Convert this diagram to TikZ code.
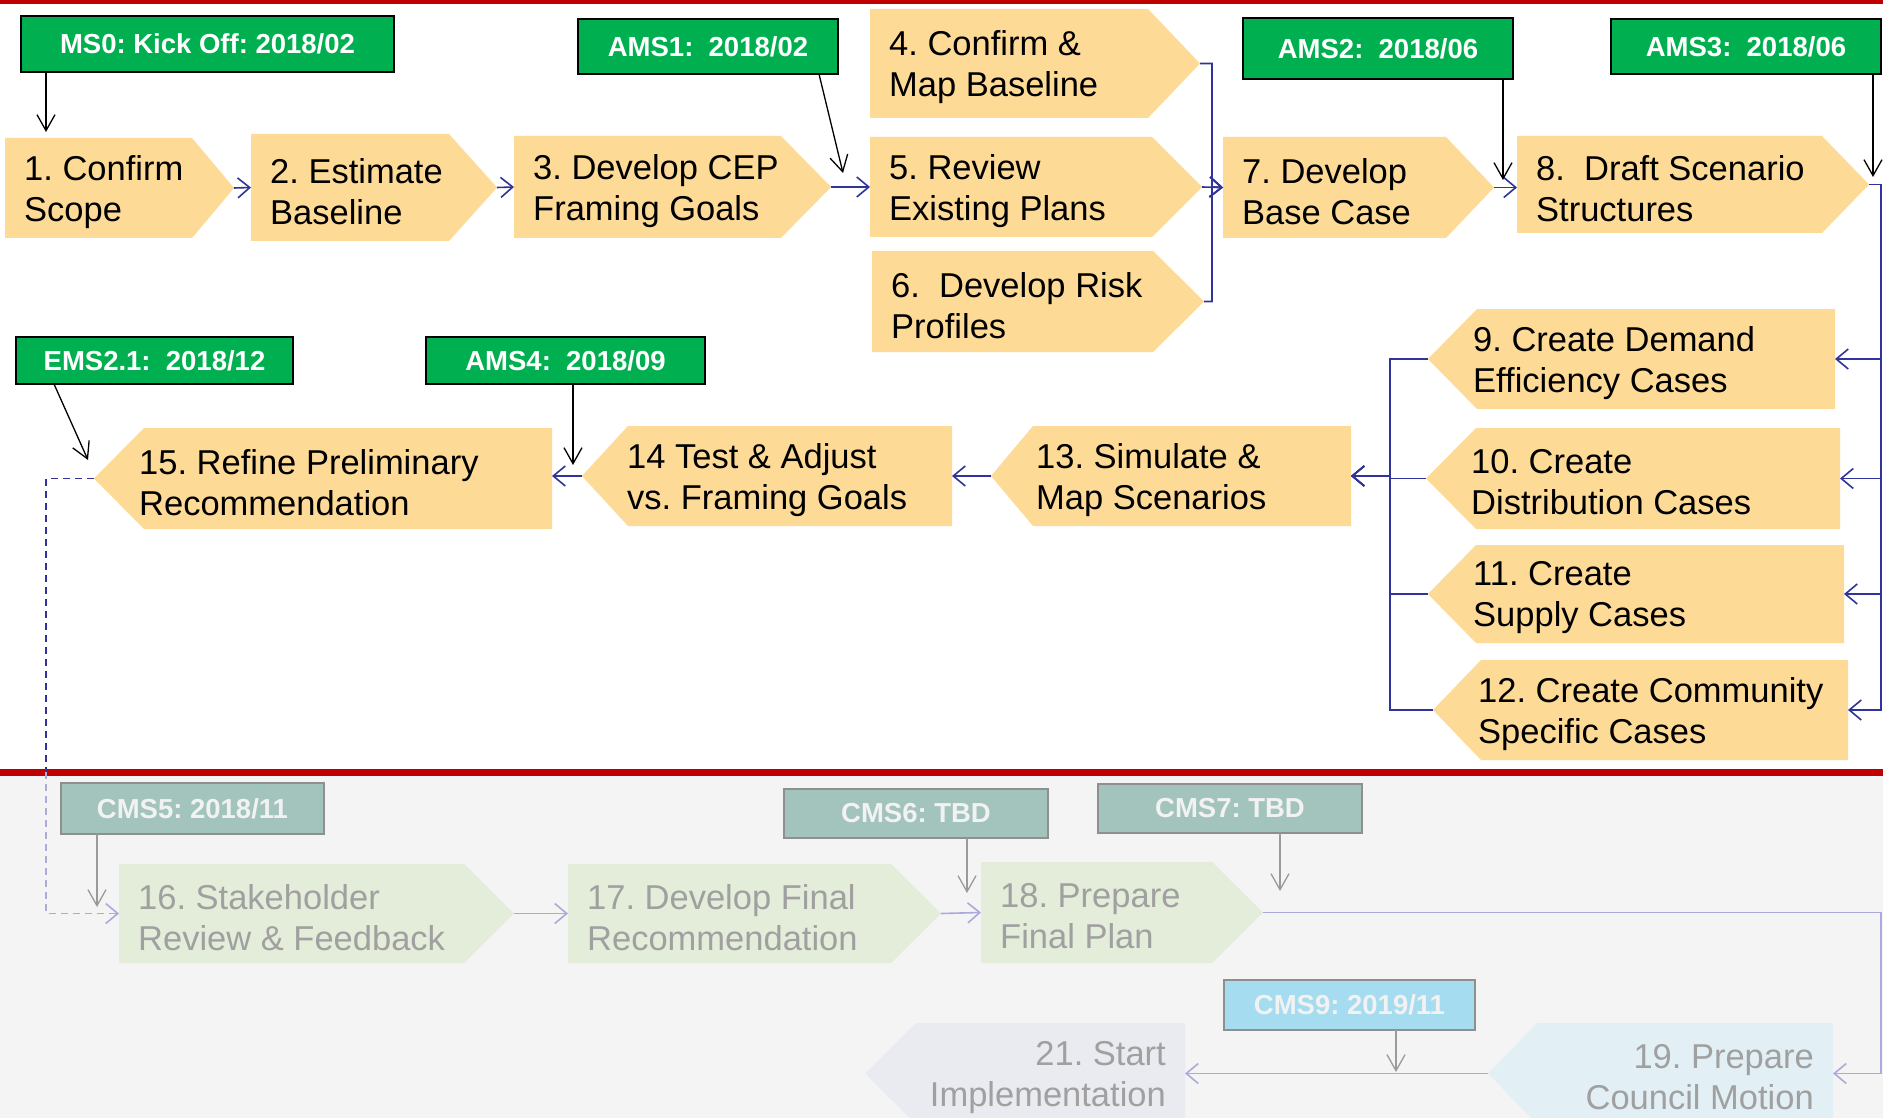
\documentclass[tikz,border=0pt]{standalone}
\usepackage{fontspec}
\setmainfont{Liberation Sans}
\usetikzlibrary{arrows.meta}
\frenchspacing
\definecolor{procfill}{HTML}{FDDA96}
\definecolor{msgreen}{HTML}{00B050}
\definecolor{flowblue}{HTML}{303399}
\definecolor{lowbg}{HTML}{F4F4F4}
\definecolor{redline}{HTML}{C00000}
\definecolor{fadegreen}{HTML}{E3EDDA}
\definecolor{fadetext}{HTML}{A0A0A0}
\definecolor{cmsfill}{HTML}{A3C4BC}
\definecolor{cmsborder}{HTML}{8F8F8F}
\definecolor{cmsnine}{HTML}{A5DCEF}
\definecolor{fadeblue}{HTML}{E2F0F6}
\definecolor{fadegray}{HTML}{EAEBF0}
\definecolor{fadeflowc}{HTML}{AAAADB}
\definecolor{fademsc}{HTML}{9A9A9A}
\definecolor{cmstext}{HTML}{F2F2F2}

\newcommand\procR[9]{%
  \fill[#7] (#2,#5) -- (#3,#5) -- (#4,{(#5+#6)/2}) -- (#3,#6) -- (#2,#6) -- cycle;
  \coordinate (#1-in) at (#2,{(#5+#6)/2});
  \coordinate (#1-out) at (#4,{(#5+#6)/2});
  \node[proctext,text=#8,anchor=west] (#1) at ({#2+19},{(#5+#6)/2+4}) {#9};}
\newcommand\procL[9]{%
  \fill[#7] (#2,{(#5+#6)/2}) -- (#3,#5) -- (#4,#5) -- (#4,#6) -- (#3,#6) -- cycle;
  \coordinate (#1-in) at (#4,{(#5+#6)/2});
  \coordinate (#1-out) at (#2,{(#5+#6)/2});
  \node[proctext,text=#8,anchor=west] (#1) at ({#2+45},{(#5+#6)/2+4}) {#9};}
\newcommand\procLR[9]{%
  \fill[#7] (#2,{(#5+#6)/2}) -- (#3,#5) -- (#4,#5) -- (#4,#6) -- (#3,#6) -- cycle;
  \coordinate (#1-in) at (#4,{(#5+#6)/2});
  \coordinate (#1-out) at (#2,{(#5+#6)/2});
  \node[proctext,align=right,text=#8,anchor=east] (#1) at ({#4-19},{(#5+#6)/2+4}) {#9};}
\newcommand\mstone[7]{%
  \node[#6,minimum width={#4pt-#2pt},minimum height={#5pt-#3pt}] (#1) at ({(#2+#4)/2},{(#3+#5)/2}) {#7};}

\begin{document}
\begin{tikzpicture}[x=1pt,y=-1pt,
  proctext/.style={font=\fontsize{34.5}{41}\selectfont, align=left, inner sep=0pt},
  msbox/.style={draw=black, line width=2pt, fill=msgreen, text=white,
    font=\fontsize{27.5}{30}\selectfont\bfseries, inner sep=0pt, outer sep=0pt},
  cmsbox/.style={draw=cmsborder, line width=2pt, fill=cmsfill, text=cmstext,
    font=\fontsize{27.5}{30}\selectfont\bfseries, inner sep=0pt, outer sep=0pt},
  cmsninebox/.style={cmsbox, fill=cmsnine},
  flow/.style={draw=flowblue, line width=1.6pt, -{Straight Barb[length=12pt,width=20pt]}},
  fflow/.style={draw=fadeflowc, line width=1.6pt, -{Straight Barb[length=12pt,width=20pt]}},
  msarrow/.style={draw=black, line width=1.3pt, -{Straight Barb[length=16pt,width=18pt]}},
  fmsarrow/.style={draw=fademsc, line width=1.3pt, -{Straight Barb[length=16pt,width=18pt]}},
  dashtop/.style={draw=flowblue, line width=1.6pt, dash pattern=on 7pt off 5pt},
  dashlow/.style={draw=fadeflowc, line width=1.6pt, dash pattern=on 7pt off 5pt,
    -{Straight Barb[length=12pt,width=20pt]}}
]
\useasboundingbox (0,0) rectangle (1883,1118);
\fill[white] (0,0) rectangle (1883,776);
\fill[lowbg] (0,776) rectangle (1883,1118);
\fill[redline] (0,0) rectangle (1883,4);
\fill[redline] (0,769) rectangle (1883,776);

% process steps
\procR{p1}{5}{192}{234}{138}{238}{procfill}{black}{1. Confirm\\Scope}
\procR{p2}{251}{449}{497}{134}{241}{procfill}{black}{2. Estimate\\Baseline}
\procR{p3}{514}{781}{831}{136}{238}{procfill}{black}{3. Develop CEP\\Framing Goals}
\procR{p4}{870}{1148}{1200}{9}{118}{procfill}{black}{4. Confirm \&\\Map Baseline}
\procR{p5}{870}{1152}{1202}{137}{237}{procfill}{black}{5. Review\\Existing Plans}
\procR{p6}{872}{1153}{1204}{251}{352}{procfill}{black}{6.\ \ Develop Risk\\Profiles}
\procR{p7}{1223}{1446}{1494}{137}{238}{procfill}{black}{7. Develop\\Base Case}
\procR{p8}{1517}{1822}{1869}{136}{233}{procfill}{black}{8.\ \ Draft Scenario\\Structures}

\procL{p9}{1428}{1477}{1835}{309}{409}{procfill}{black}{9. Create Demand\\Efficiency Cases}
\procL{p10}{1426}{1476}{1840}{428}{529}{procfill}{black}{10. Create\\Distribution Cases}
\procL{p11}{1428}{1476}{1844}{545}{643}{procfill}{black}{11. Create\\Supply Cases}
\procL{p12}{1433}{1481}{1848}{660}{760}{procfill}{black}{12. Create Community\\Specific Cases}
\procL{p13}{991}{1033}{1351}{426}{526}{procfill}{black}{13. Simulate \&\\Map Scenarios}
\procL{p14}{582}{628}{952}{426}{526}{procfill}{black}{14 Test \& Adjust\\vs. Framing Goals}
\procL{p15}{94}{144}{552}{428}{529}{procfill}{black}{15. Refine Preliminary\\Recommendation}

\procR{p16}{119}{464}{514}{864}{963}{fadegreen}{fadetext}{16. Stakeholder\\Review \& Feedback}
\procR{p17}{568}{891}{941}{864}{963}{fadegreen}{fadetext}{17. Develop Final\\Recommendation}
\procR{p18}{981}{1212}{1263}{862}{963}{fadegreen}{fadetext}{18. Prepare\\Final Plan}
\procLR{p19}{1488}{1537}{1833}{1023}{1124}{fadeblue}{fadetext}{19. Prepare\\Council Motion}
\procLR{p21}{865}{916}{1185}{1023}{1124}{fadegray}{fadetext}{21. Start\\Implementation}

% connectors, upper rows
\coordinate (bk) at (1212,187);
\draw[flow] (p1-out) -- (p2-in);
\draw[flow] (p2-out) -- (p3-in);
\draw[flow] (p3-out) -- (p5-in);
\draw[flow] (p4-out) -| (bk) -- (p7-in);
\draw[flow] (p5-out) -- (p7-in);
\draw[flow] (p6-out) -| (bk) -- (p7-in);
\draw[flow] (p7-out) -- (p7-out -| p8-in);
\coordinate (rb) at (1881,184.5);
\draw[flow] (p8-out) -- (rb) |- (p9-in);
\draw[flow] (p8-out) -- (rb) |- (p10-in);
\draw[flow] (p8-out) -- (rb) |- (p11-in);
\draw[flow] (p8-out) -- (rb) |- (p12-in);
\coordinate (lb) at (1390,476);
\draw[flow] (p9-out) -- (p9-out -| lb) |- (p13-in);
\draw[flow] (p10-out) -- (p10-out -| lb) |- (p13-in);
\draw[flow] (p11-out) -- (p11-out -| lb) |- (p13-in);
\draw[flow] (p12-out) -- (p12-out -| lb) |- (p13-in);
\draw[flow] (p13-out) -- (p14-in);
\draw[flow] (p14-out) -- (p14-out -| p15-in);
\coordinate (dsplit) at (46,772);
\draw[dashtop] (p15-out) -| (dsplit);
\draw[dashlow] (dsplit) |- (p16-in);

% connectors, lower rows
\draw[fflow] (p16-out) -- (p17-in);
\draw[fflow] (p17-out) -- (p18-in);
\coordinate (rbb) at (1881,912.5);
\draw[fflow] (p18-out) -- (rbb) |- (p19-in);
\draw[fflow] (p19-out) -- (p21-in);

% milestones
\mstone{ms0}{21}{16}{394}{72}{msbox}{MS0: Kick Off: 2018/02}
\mstone{ams1}{578}{19}{838}{74}{msbox}{AMS1:\ \ 2018/02}
\mstone{ams2}{1243}{18}{1513}{79}{msbox}{AMS2:\ \ 2018/06}
\mstone{ams3}{1611}{19}{1881}{74}{msbox}{AMS3:\ \ 2018/06}
\mstone{ems21}{16}{337}{293}{384}{msbox}{EMS2.1:\ \ 2018/12}
\mstone{ams4}{426}{337}{705}{384}{msbox}{AMS4:\ \ 2018/09}
\mstone{cms5}{61}{783}{324}{834}{cmsbox}{CMS5: 2018/11}
\mstone{cms6}{784}{789}{1048}{838}{cmsbox}{CMS6: TBD}
\mstone{cms7}{1098}{784}{1362}{833}{cmsbox}{CMS7: TBD}
\mstone{cms9}{1224}{980}{1475}{1030}{cmsninebox}{CMS9: 2019/11}

\coordinate (a0) at (46,132);
\draw[msarrow] (ms0.south -| a0) -- (a0);
\coordinate (a1) at (843,173);
\draw[msarrow] ([xshift=-19pt]ams1.south east) -- (a1);
\coordinate (a2) at (1503,180);
\draw[msarrow] (ams2.south -| a2) -- (a2);
\coordinate (a3) at (1873,177);
\draw[msarrow] (ams3.south -| a3) -- (a3);
\coordinate (a4) at (88,460);
\draw[msarrow] ([xshift=38pt]ems21.south west) -- (a4);
\coordinate (a5) at (573,465);
\draw[msarrow] (ams4.south -| a5) -- (a5);
\coordinate (c5) at (97,907);
\draw[fmsarrow] (cms5.south -| c5) -- (c5);
\coordinate (c6) at (967,893);
\draw[fmsarrow] (cms6.south -| c6) -- (c6);
\coordinate (c7) at (1280,891);
\draw[fmsarrow] (cms7.south -| c7) -- (c7);
\coordinate (c9) at (1396,1072);
\draw[fmsarrow] (cms9.south -| c9) -- (c9);
\end{tikzpicture}
\end{document}
